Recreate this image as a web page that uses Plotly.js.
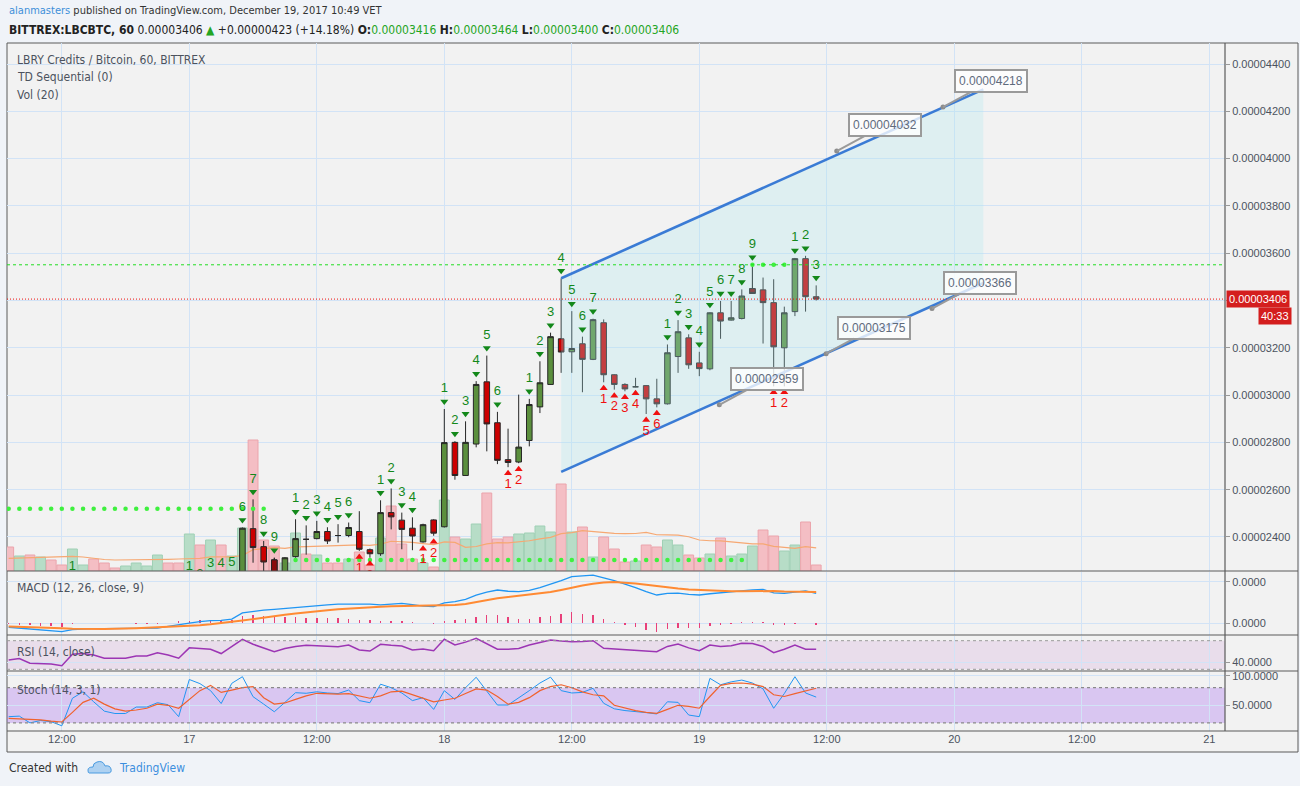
<!DOCTYPE html>
<html><head><meta charset="utf-8">
<script src="https://cdn.plot.ly/plotly-3.0.1.min.js"></script>
<style>html,body{margin:0;padding:0;background:#f0f3f8;}#chart{width:1300px;height:786px;}</style>
</head><body><div id="chart"></div>
<script>
// ---------------- DATA (prices in satoshi = 1e-8 BTC) ----------------
const firstBar = '2017-12-16 07:00';      // first volume bar (hourly)
const candleOffset = 22;                  // first visible candle = bar 22 (17 Dec 05:00)

const volume = [24,15,16,14,11,6,22,6,12,8,3,5,8,5,16,8,8,37,26,31,26,15,
  43,131,31,25,8,38,17,16,8,8,12,19,6,33,65,27,12,8,4,71,34,32,47,78,32,34,37,38,45,39,87,39,44,14,34,22,9,10,26,24,31,26,16,13,17,33,15,17,25,41,35,20,26,49,6];
const volUp = [0,1,0,1,0,0,1,1,0,0,0,1,1,1,1,0,0,1,0,1,0,1,
  1,0,0,0,1,1,0,1,0,0,1,0,0,1,0,0,0,1,0,1,0,1,1,0,0,0,1,1,1,1,0,1,0,1,0,0,0,1,0,0,1,1,0,0,1,0,1,1,1,0,0,1,1,0,0];
const volMaHead = [12.7,13,13.5,14,14.3,14.5,14.7,14,12.7,11.5,11,11,11,11,11.5,11.7,12,12.5,12.7];

const open  = [2245,2435,2359,2303,2248,2317,2390,2393,2423,2406,2406,2423,2346,2329,2503,2471,2437,2379,2472,2443,2800,2660,2793,3056,2883,2727,2717,2808,2950,3045,3238,3183,3217,3151,3306,3086,3045,3035,3040,2984,2963,3163,3242,3136,3111,3348,3317,3324,3450,3445,3391,3200,3353,3577,3416];
const high  = [2440,2559,2383,2312,2315,2475,2449,2468,2441,2454,2461,2509,2351,2555,2605,2503,2483,2456,2475,2941,2805,2889,3059,3167,2929,2858,3002,2984,3143,3264,3494,3355,3247,3323,3320,3088,3050,3073,3042,3069,3214,3317,3257,3183,3350,3398,3398,3447,3551,3497,3490,3374,3580,3589,3464];
const low   = [2230,2291,2250,2240,2240,2312,2325,2390,2370,2376,2399,2341,2312,2320,2432,2348,2344,2376,2405,2440,2642,2658,2779,2762,2708,2695,2712,2783,2924,3043,3094,3094,3012,3148,3054,3023,3016,3033,2920,2948,2960,3094,3111,3080,3105,3238,3315,3320,3428,3218,3037,3037,3334,3353,3400];
const close = [2437,2355,2294,2245,2312,2393,2390,2423,2383,2406,2440,2348,2329,2503,2485,2432,2404,2452,2416,2799,2660,2800,3045,2878,2724,2715,2780,2960,3052,3247,3182,3197,3151,3319,3086,3045,3026,3035,2984,2963,3179,3268,3128,3112,3348,3313,3327,3419,3430,3391,3204,3348,3577,3416,3406];
const dayChange = 423, dayChangePct = 14.18;

// TD Sequential setup counts (candle index -> count)
const tdSellBar = [0,1,2,3,5,6,7,8,9,10,13,14,15,16,19,20,21,22,23,24,27,28,29,30,31,32,33,40,41,42,43,44,45,46,47,48,52,53,54];
const tdSellNum = [6,7,8,9,1,2,3,4,5,6,1,2,3,4,1,2,3,4,5,6,1,2,3,4,5,6,7,1,2,3,4,5,6,7,8,9,1,2,3];
const tdEarlyBar  = [-16,-5,-4,-3,-2,-1];
const tdEarlyNum  = [1,1,2,3,4,5];
const tdEarlyHigh = [2188,2188,2154,2203,2203,2207];
const tdBuyBar = [11,12,17,18,25,26,34,35,36,37,38,39,50,51];
const tdBuyNum = [1,2,1,2,1,2,1,2,3,4,5,6,1,2];
// TD support / resistance dots (bar index ranges)
const tdDotLevel = [2519, 2302, 3551];
const tdDotFrom  = [0, 27, 70];
const tdDotTo    = [24, 69, 73];
const resistanceLevel = 3551;

// Parallel channel drawing
const chanTime  = ['2017-12-18 11:00', '2017-12-20 02:44'];
const chanUpper = [3494, 4293];
const chanLower = [2675, 3474];
const calloutTime  = ['2017-12-19 22:56','2017-12-19 12:56','2017-12-19 21:54','2017-12-19 11:56','2017-12-19 01:53'];
const calloutPrice = [4218, 4032, 3366, 3175, 2959];

// Indicators (per bar)
const macdLine = [-1.9,-2.3,-2.8,-3.3,-3.7,-4.0,-3.0,-2.7,-2.6,-2.6,-2.6,-2.6,-2.5,-2.4,-2.3,-1.5,-0.6,0.1,0.8,1.3,1.4,2.0,5.0,5.8,6.3,6.7,7.2,7.6,8.0,8.4,8.9,9.2,9.3,9.3,9.2,8.9,9.3,9.6,9.0,8.3,8.0,9.8,10.4,11.5,13.5,15.0,16.0,15.4,15.2,15.8,17.2,18.7,20.5,22.4,22.8,23.2,21.8,20.5,18.8,17.2,15.2,13.6,14.4,14.5,13.9,13.6,14.2,14.7,15.2,15.8,16.1,16.3,14.6,14.4,15.0,15.6,14.4];
const signalLine = [-1.6,-1.7,-1.8,-2.0,-2.2,-2.4,-2.6,-2.7,-2.7,-2.7,-2.6,-2.6,-2.4,-2.2,-2.0,-1.7,-1.5,-1.2,-0.9,-0.5,0.0,0.6,1.3,2.0,2.8,3.5,4.1,4.7,5.3,5.8,6.3,6.7,7.1,7.5,7.8,8.0,8.2,8.3,8.3,8.3,8.3,8.5,8.8,9.3,10.3,11.0,12.0,12.6,13.2,13.7,14.3,15.0,16.0,17.2,18.2,19.0,19.6,19.8,19.6,19.1,18.5,17.8,17.2,16.7,16.3,16.0,15.7,15.5,15.4,15.4,15.5,15.6,15.5,15.3,15.3,15.3,15.1];
const rsi = [43,45,38.5,38,37.5,35,51,52,50,45.5,45.5,45.5,48.5,48.5,53,50,45.5,60,59,58,52,62,72,65,60,54.5,59,62,63.5,63,62.5,61.5,64,57,55.5,65,63.5,62.5,57,58.5,56,72,64,68,73.4,66,58,58,59,64,67,71,69.5,68.6,69,70,59.4,58.5,58,57,56,54.6,62,65.4,60,56,64,62,63,66.4,66,62,53.2,58,64,58,58];
const stochK = [30.6,31.5,20,24,22,15,62,73,56,40,36,36,47,47,54.4,51,30.6,94,87,75,53,87.5,98.8,64.7,52,39,55,71.5,70.5,73,71,70,76,58,54.4,86,80,71,58,63,43,74.9,60,80,97.8,75,50.5,50.5,62,75,88,98,75,71,72,79,53.4,44,41,39.5,37.5,35.2,56,55,33.4,30.6,96,85,90,93,88,78,44.9,70,98.8,71,64];
const stochD = [27.8,27,26.5,25,23,21.5,38,55,62,52,44,40,42,45,52,50,45,60,75,84,72,76,80,82,63,52,54,60,66,70.5,70,69,70,66,62,66,73,74,68,62,56,59,62,70,78,76,65,52,55,63,75,82,85,80,73,68,66,50,45,41,38,36.3,43,50,48,45,65,84,87.5,88,86,82,68,65,70,75,79];

// Axes ticks
const xTickVals = ['2017-12-16 12:00','2017-12-17 00:00','2017-12-17 12:00','2017-12-18 00:00','2017-12-18 12:00','2017-12-19 00:00','2017-12-19 12:00','2017-12-20 00:00','2017-12-20 12:00','2017-12-21 00:00'];
const xTickText = ['12:00','17','12:00','18','12:00','19','12:00','20','12:00','21'];
const priceTicks = [2400,2600,2800,3000,3200,3400,3600,3800,4000,4200,4400];

// ---------------- BUILD ----------------
const HOUR = 3600e3;
const t0 = Date.UTC(2017,11,16,7,0);
const tstr = ms => new Date(ms).toISOString().slice(0,19).replace('T',' ');
const barTime = volume.map((_,k) => tstr(t0 + k*HOUR));
const candleTimeAt = i => tstr(t0 + (i+candleOffset)*HOUR);
const candleTime = open.map((_,i) => candleTimeAt(i));
const sat = v => (v*1e-8).toFixed(8);

const ML=7, MR=75, MT=43, MB=55, PW=1300-ML-MR, PH=786-MT-MB;
const px = x => (x-ML)/PW, py = y => (MT+PH-y)/PH;
const priceRange = [2256, 4489];
const pxP = (priceRange[1]-priceRange[0])/(571-43);
const last = open.length-1;

const volMa = volume.map((v,k) => {
  if (k < volMaHead.length) return volMaHead[k];
  let s=0; for (let j=k-19;j<=k;j++) s+=volume[j]; return s/20;
});
const macdHist = macdLine.map((m,k) => +(m - signalLine[k]).toFixed(2));

const GREEN_TD = '#13881a', RED_TD = '#f01010';
const traces = [];
// volume
traces.push({type:'bar', x:barTime, y:volume, xaxis:'x', yaxis:'y', width:0.93*HOUR,
  marker:{color:volUp.map(u=>u?'#b7ddc7':'#f4bec4'), line:{color:volUp.map(u=>u?'#9fd0b5':'#eba4ac'), width:1}}, hoverinfo:'skip'});
traces.push({type:'scatter', mode:'lines', x:barTime, y:volMa, xaxis:'x', yaxis:'y', line:{color:'#f6a873', width:1.2}, hoverinfo:'skip'});
// channel fill
traces.push({type:'scatter', mode:'lines', x:[chanTime[0],chanTime[1],chanTime[1],chanTime[0],chanTime[0]],
  y:[chanUpper[0],chanUpper[1],chanLower[1],chanLower[0],chanUpper[0]], fill:'toself', fillcolor:'rgba(170,232,240,0.27)',
  line:{width:0}, xaxis:'x', yaxis:'y2', hoverinfo:'skip'});
// TD dots
tdDotLevel.forEach((lv,j)=>{
  const xs=[], ys=[];
  for (let k=tdDotFrom[j]; k<=tdDotTo[j]; k++){ xs.push(barTime[k]); ys.push(lv); }
  traces.push({type:'scatter', mode:'markers', x:xs, y:ys, xaxis:'x', yaxis:'y2', marker:{color:'#3ff03f', size:4.5}, hoverinfo:'skip'});
});
// candles
traces.push({type:'candlestick', x:candleTime, open:open, high:high, low:low, close:close, xaxis:'x', yaxis:'y2',
  increasing:{line:{color:'#262626', width:1}, fillcolor:'#5b8f3d'},
  decreasing:{line:{color:'#262626', width:1}, fillcolor:'#cc0000'}, hoverinfo:'skip'});
const nineIdx = tdSellBar.filter((b,j)=>tdSellNum[j]===9);
traces.push({type:'candlestick', x:nineIdx.map(i=>candleTime[i]), open:nineIdx.map(i=>open[i]), high:nineIdx.map(i=>high[i]),
  low:nineIdx.map(i=>low[i]), close:nineIdx.map(i=>close[i]), xaxis:'x', yaxis:'y2',
  increasing:{line:{color:'#262626', width:1}, fillcolor:'#3d6a25'},
  decreasing:{line:{color:'#262626', width:1}, fillcolor:'#8a0a0a'}, hoverinfo:'skip'});
// channel lines
[chanUpper, chanLower].forEach(arr=>traces.push({type:'scatter', mode:'lines', x:chanTime, y:arr, xaxis:'x', yaxis:'y2',
  line:{color:'#3a7bd5', width:2.6}, hoverinfo:'skip'}));
// TD labels
const sX=[], sTri=[], sNum=[], sTxt=[];
tdSellBar.forEach((b,j)=>{ sX.push(candleTime[b]); sTri.push(high[b]+7.5*pxP); sNum.push(high[b]+20*pxP); sTxt.push(String(tdSellNum[j])); });
tdEarlyBar.forEach((b,j)=>{ sX.push(candleTimeAt(b)); sTri.push(tdEarlyHigh[j]+7.5*pxP); sNum.push(tdEarlyHigh[j]+20*pxP); sTxt.push(String(tdEarlyNum[j])); });
traces.push({type:'scatter', mode:'markers', x:sX, y:sTri, xaxis:'x', yaxis:'y2', marker:{symbol:'triangle-down', size:7, color:GREEN_TD}, hoverinfo:'skip'});
traces.push({type:'scatter', mode:'text', x:sX, y:sNum, text:sTxt, xaxis:'x', yaxis:'y2', textfont:{family:'Liberation Sans, Arial', size:13, color:GREEN_TD}, hoverinfo:'skip'});
const bX=[], bTri=[], bNum=[], bTxt=[];
tdBuyBar.forEach((b,j)=>{ bX.push(candleTime[b]); bTri.push(low[b]-6*pxP); bNum.push(low[b]-17.5*pxP); bTxt.push(String(tdBuyNum[j])); });
traces.push({type:'scatter', mode:'markers', x:bX, y:bTri, xaxis:'x', yaxis:'y2', marker:{symbol:'triangle-up', size:7, color:RED_TD}, hoverinfo:'skip'});
traces.push({type:'scatter', mode:'text', x:bX, y:bNum, text:bTxt, xaxis:'x', yaxis:'y2', textfont:{family:'Liberation Sans, Arial', size:13, color:RED_TD}, hoverinfo:'skip'});
// callout anchor dots
traces.push({type:'scatter', mode:'markers', x:calloutTime, y:calloutPrice, xaxis:'x', yaxis:'y2', marker:{color:'#8c8c8c', size:5}, hoverinfo:'skip'});
// MACD
traces.push({type:'bar', x:barTime, y:macdHist, xaxis:'x', yaxis:'y3', width:0.13*HOUR, marker:{color:'#e8407a', line:{width:0}}, hoverinfo:'skip'});
traces.push({type:'scatter', mode:'lines', x:barTime, y:macdLine, xaxis:'x', yaxis:'y3', line:{color:'#2196f3', width:1.3}, hoverinfo:'skip'});
traces.push({type:'scatter', mode:'lines', x:barTime, y:signalLine, xaxis:'x', yaxis:'y3', line:{color:'#ff8a33', width:2}, hoverinfo:'skip'});
// RSI
traces.push({type:'scatter', mode:'lines', x:barTime, y:rsi, xaxis:'x', yaxis:'y4', line:{color:'#9c35b4', width:1.5}, hoverinfo:'skip'});
// Stoch
traces.push({type:'scatter', mode:'lines', x:barTime, y:stochK, xaxis:'x', yaxis:'y5', line:{color:'#2196f3', width:1}, hoverinfo:'skip'});
traces.push({type:'scatter', mode:'lines', x:barTime, y:stochD, xaxis:'x', yaxis:'y5', line:{color:'#f0622d', width:1.2}, hoverinfo:'skip'});

const GRID = '#d2e3f6', TXT = '#4c525e';
const tickFont = {family:'Liberation Sans, Arial', size:11, color:TXT};
const yCommon = {side:'right', anchor:'x', showgrid:true, gridcolor:GRID, zeroline:false, ticks:'outside', ticklen:4, tickcolor:'#999', tickfont:tickFont, fixedrange:true, showline:false};

const shapes = [
  {type:'rect', xref:'paper', yref:'paper', x0:px(7), x1:px(1298), y0:py(752), y1:py(43), fillcolor:'#f2f2f2', line:{color:'#5a5a5a', width:1}, layer:'below'},
  // RSI band
  {type:'rect', xref:'paper', yref:'y4', x0:0, x1:1, y0:30, y1:70, fillcolor:'rgba(156,39,176,0.10)', line:{width:0}, layer:'below'},
  {type:'line', xref:'paper', yref:'y4', x0:0, x1:1, y0:70, y1:70, line:{color:'#9a9a9a', width:1, dash:'3px,3px'}},
  {type:'line', xref:'paper', yref:'y4', x0:0, x1:1, y0:30, y1:30, line:{color:'#9a9a9a', width:1, dash:'3px,3px'}},
  // Stoch band
  {type:'rect', xref:'paper', yref:'y5', x0:0, x1:1, y0:20, y1:80, fillcolor:'rgba(140,60,240,0.24)', line:{width:0}, layer:'below'},
  {type:'line', xref:'paper', yref:'y5', x0:0, x1:1, y0:80, y1:80, line:{color:'#8a8a8a', width:1.2, dash:'3px,3px'}},
  {type:'line', xref:'paper', yref:'y5', x0:0, x1:1, y0:20, y1:20, line:{color:'#8a8a8a', width:1.2, dash:'3px,3px'}},
  // horizontal levels
  {type:'line', xref:'paper', yref:'y2', x0:0, x1:1, y0:resistanceLevel, y1:resistanceLevel, line:{color:'#22dd22', width:1, dash:'3px,3px'}},
  {type:'line', xref:'paper', yref:'y2', x0:0, x1:1, y0:close[last], y1:close[last], line:{color:'#ee1111', width:1, dash:'1px,2px'}},
];
// panel separators and price axis line
[571,635,671,731].forEach(y=>shapes.push({type:'line', xref:'paper', yref:'paper', x0:px(7), x1:px(1298), y0:py(y), y1:py(y), line:{color:'#5a5a5a', width:1.2}}));
shapes.push({type:'line', xref:'paper', yref:'paper', x0:1, x1:1, y0:py(731), y1:py(43), line:{color:'#5a5a5a', width:1.2}});
// TradingView logo (small cloud)
const cloud = [['M',89,773],['L',108,773],['Q',112,773,111,769],['Q',110,765,105,766],['Q',103,760,97,762],['Q',93,763,93,767],['Q',88,767,88,770],['Q',88,773,89,773],['Z']];
shapes.push({type:'path', xref:'paper', yref:'paper', path:cloud.map(s=>{const o=[s[0]]; for(let i=1;i<s.length;i+=2){o.push(px(s[i]).toFixed(5)+','+py(s[i+1]).toFixed(5));} return o.join(' ');}).join(' '),
  fillcolor:'rgba(120,180,235,0.55)', line:{color:'#4a9be0', width:1}});

const UIF = "'Liberation Sans Narrow','DejaVu Sans Condensed','Liberation Sans',Arial,sans-serif";
const ann = (x,y,text,opt={}) => Object.assign({xref:'paper', yref:'paper', x:px(x), y:py(y), text, showarrow:false, xanchor:'left', yanchor:'middle',
  font:{family:UIF, size:12, color:TXT}}, opt);
const G = 'color:#24a524';
const annotations = [
  ann(7,11,'<span style="color:#3d8fd9">alanmasters</span> published on TradingView.com, December 19, 2017 10:49 VET',{font:{family:UIF,size:11,color:'#333'}}),
  ann(7,30,`<b>BITTREX:LBCBTC, 60</b> ${sat(close[last])} <span style="${G}">▲</span> +${sat(dayChange)} (+${dayChangePct.toFixed(2)}%) <b>O:</b><span style="${G}">${sat(open[last])}</span> <b>H:</b><span style="${G}">${sat(high[last])}</span> <b>L:</b><span style="${G}">${sat(low[last])}</span> <b>C:</b><span style="${G}">${sat(close[last])}</span>`,{font:{family:UIF,size:12,color:'#222'}}),
  ann(15,60,'LBRY Credits / Bitcoin, 60, BITTREX'),
  ann(15,77,'TD Sequential (0)'),
  ann(15,95,'Vol (20)'),
  ann(15,588,'MACD (12, 26, close, 9)'),
  ann(15,652,'RSI (14, close)'),
  ann(15,690,'Stoch (14, 3, 1)'),
  ann(7,768,'Created with',{font:{family:UIF,size:12,color:'#333'}}),
  ann(117,768,'TradingView',{font:{family:UIF,size:12,color:'#3c8ede'}}),
  {xref:'paper', yref:'y2', x:px(1226), y:close[last], text:sat(close[last]), showarrow:false, xanchor:'left', yanchor:'middle',
    bgcolor:'#d41e1e', borderpad:2, font:{family:'Liberation Sans, Arial', size:11, color:'#fff'}},
  {xref:'paper', yref:'y2', x:px(1292), y:close[last], yshift:-17, text:'40:33', showarrow:false, xanchor:'right', yanchor:'middle',
    bgcolor:'#d41e1e', borderpad:2, font:{family:'Liberation Sans, Arial', size:11, color:'#fff'}},
];
calloutTime.forEach((t,j)=>annotations.push({xref:'x', yref:'y2', x:t, y:calloutPrice[j], text:sat(calloutPrice[j]),
  showarrow:true, ax:48, ay:-26, arrowhead:0, arrowwidth:2, arrowcolor:'#9a9a9a', standoff:0,
  bgcolor:'rgba(255,255,255,0.78)', bordercolor:'#9a9a9a', borderwidth:2, borderpad:3,
  font:{family:'Liberation Sans, Arial', size:12, color:'#5f6b7c'}}));

// the current-price tag covers the nearest tick label, as on the original chart
const priceTickText = priceTicks.map(v => Math.abs(v - close[last]) < 40 ? '' : sat(v));

const layout = {
  width:1300, height:786, margin:{l:ML, r:MR, t:MT, b:MB, pad:0},
  paper_bgcolor:'#f0f3f8', plot_bgcolor:'rgba(0,0,0,0)', showlegend:false, hovermode:false,
  font:{family:'Liberation Sans, Arial', size:11, color:TXT},
  boxgap:0.25, bargap:0,
  xaxis:{type:'date', range:['2017-12-16 06:50:30','2017-12-21 01:28:40'], anchor:'y5', tickvals:xTickVals, ticktext:xTickText,
    showgrid:true, gridcolor:GRID, zeroline:false, showline:false, ticks:'', tickfont:tickFont, rangeslider:{visible:false}, fixedrange:true},
  yaxis:{domain:[py(571),1], range:[0,528], visible:false, showgrid:false, fixedrange:true},
  yaxis2:Object.assign({}, yCommon, {overlaying:'y', range:priceRange, tickvals:priceTicks, ticktext:priceTickText}),
  yaxis3:Object.assign({}, yCommon, {domain:[py(635),py(572)], range:[-5.63,24.66], tickvals:[0,20], ticktext:['0.0000','0.0000']}),
  yaxis4:Object.assign({}, yCommon, {domain:[py(671),py(636)], range:[27.62,76.57], tickvals:[40], ticktext:['40.0000']}),
  yaxis5:Object.assign({}, yCommon, {domain:[0,py(672)], range:[6.14,106.8], tickvals:[50,100], ticktext:['50.0000','100.0000']}),
  shapes, annotations
};
Plotly.newPlot('chart', traces, layout, {staticPlot:true, displayModeBar:false});
</script></body></html>
